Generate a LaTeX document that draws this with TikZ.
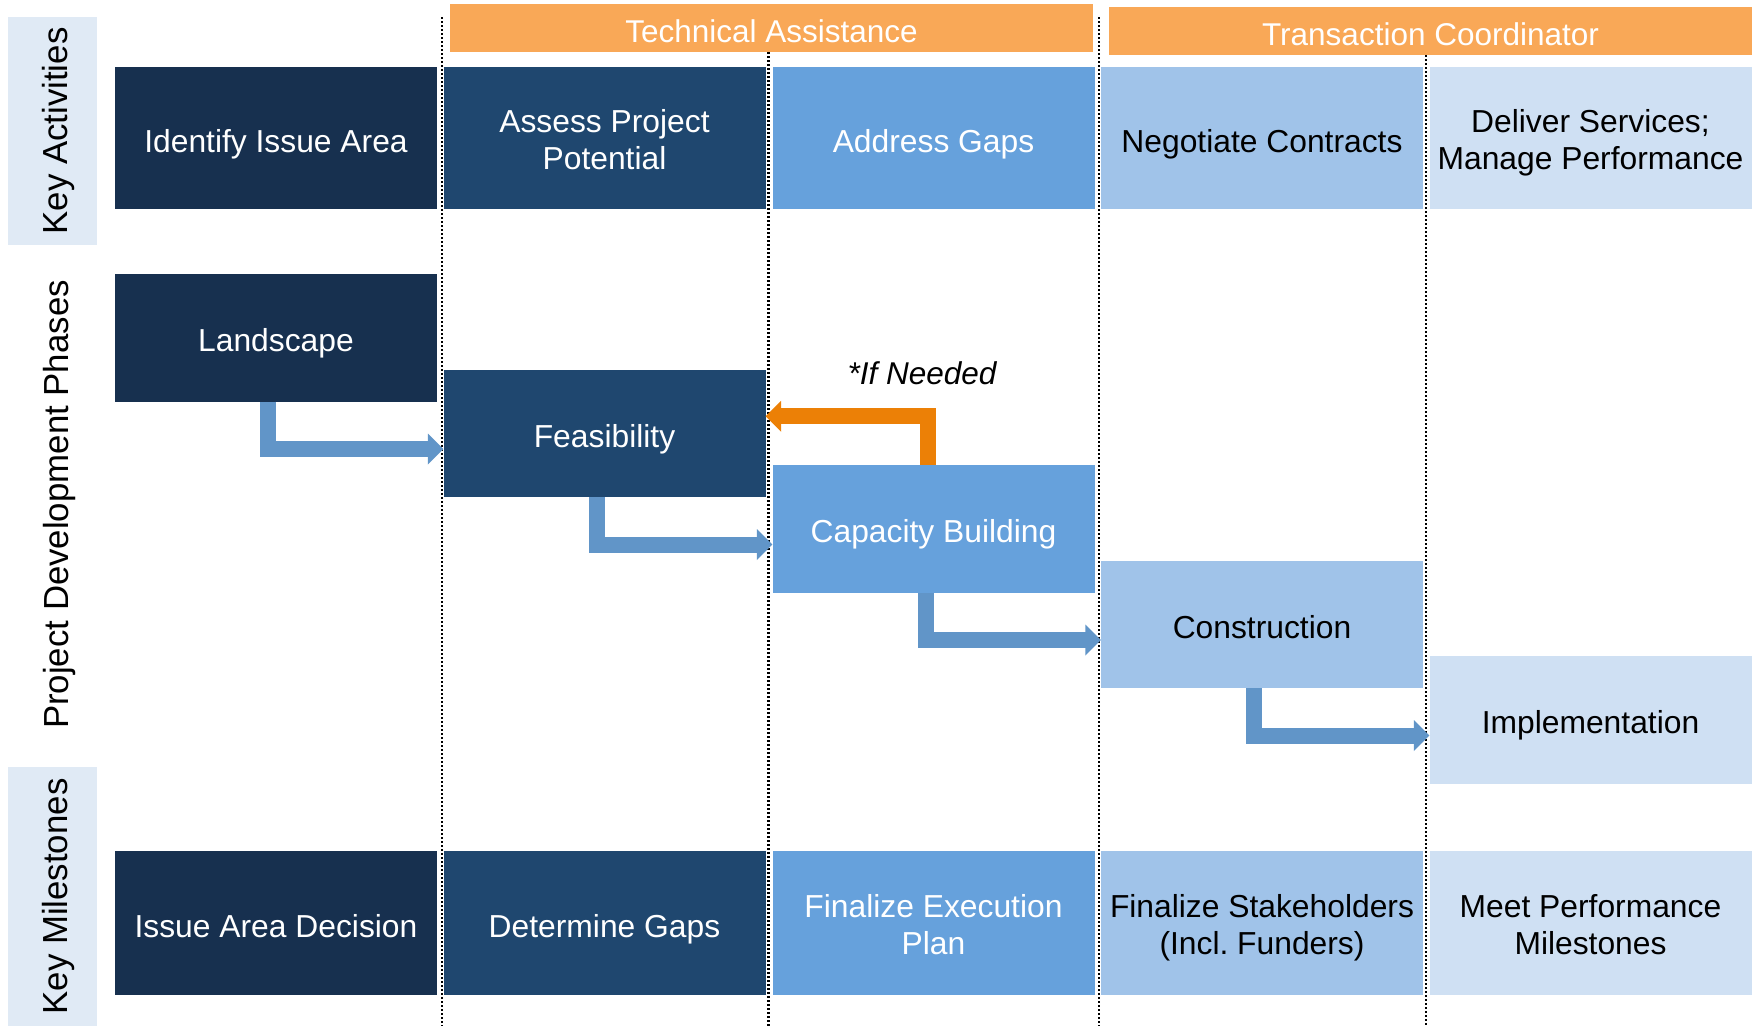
\documentclass[tikz,border=0pt]{standalone}
\usepackage{fontspec}
\setmainfont{Liberation Sans}
\usetikzlibrary{calc}
\definecolor{navyA}{HTML}{17304F}
\definecolor{navyB}{HTML}{1F476F}
\definecolor{blueC}{HTML}{66A1DC}
\definecolor{blueD}{HTML}{A0C3E9}
\definecolor{blueE}{HTML}{CFE0F3}
\definecolor{labelbg}{HTML}{E0EAF5}
\definecolor{barorange}{HTML}{F9A857}
\definecolor{arroworange}{HTML}{EC8006}
\definecolor{arrowblue}{HTML}{6195C8}
\frenchspacing
\begin{document}
\begin{tikzpicture}[x=1pt,y=-1pt,
  box/.style={inner sep=0pt, minimum width=322pt, align=center, font=\fontsize{31.8}{37}\selectfont},
  oneline/.style={text height=34pt, text depth=6pt},
  twoline/.style={text height=68pt, text depth=6pt},
  actbox/.style={box, minimum height=142pt},
  phbox/.style={box, minimum height=127.5pt, oneline},
  msbox/.style={box, minimum height=144pt},
  colA/.style={fill=navyA, text=white},
  colB/.style={fill=navyB, text=white},
  colC/.style={fill=blueC, text=white},
  colD/.style={fill=blueD, text=black},
  colE/.style={fill=blueE, text=black},
  bar/.style={fill=barorange, text=white, inner sep=0pt, minimum width=643pt, minimum height=48pt, oneline, font=\fontsize{31.5}{37}\selectfont},
  sidebg/.style={fill=labelbg, inner sep=0pt, rotate=90, minimum height=89pt},
  sidefont/.style={font=\fontsize{34.8}{40}\selectfont, text height=36pt, text depth=6pt},
  divider/.style={line width=2.5pt, dash pattern=on 2pt off 2pt},
  bshaft/.style={draw=arrowblue, line width=16pt},
  oshaft/.style={draw=arroworange, line width=16pt},
]
\useasboundingbox (0,0) rectangle (1756,1026);

% header bars
\node[bar] (ta) at (771.5,28) {Technical Assistance};
\node[bar] (tc) at (1430.5,31) {Transaction Coordinator};

% side labels
\node[sidebg, sidefont, minimum width=228pt] (ka) at (52.5,131) {Key Activities};
\node[rotate=90, inner sep=0pt, sidefont] (pdp) at (53.5,504.5) {Project Development Phases};
\node[sidebg, sidefont, minimum width=259pt] (km) at (52.5,896.5) {Key Milestones};

% dividers
\draw[divider] (442,17) -- (442,1026);
\draw[divider] (ta.south -| 768.5,0) -- (768.5,1026);
\draw[divider] (1099,17) -- (1099,1026);
\draw[divider] (tc.south -| 1426,0) -- (1426,1026);

% key activities
\node[actbox, oneline, colA] (a1) at (276,138) {Identify Issue Area};
\node[actbox, twoline, colB] (a2) at (604.5,138) {Assess Project\\Potential};
\node[actbox, oneline, colC] (a3) at (933.5,138) {Address Gaps};
\node[actbox, oneline, colD] (a4) at (1262,138) {Negotiate Contracts};
\node[actbox, twoline, colE] (a5) at (1590.5,138) {Deliver Services;\\Manage Performance};

% phases
\node[phbox, colA] (land) at (276,337.75) {Landscape};
\node[phbox, colB] (feas) at (604.5,433.25) {Feasibility};
\node[phbox, colC] (cap) at (933.5,528.75) {Capacity Building};
\node[phbox, colD] (cons) at (1262,624.25) {Construction};
\node[phbox, colE] (impl) at (1590.5,719.75) {Implementation};

% milestones
\node[msbox, oneline, colA] (m1) at (276,923) {Issue Area Decision};
\node[msbox, oneline, colB] (m2) at (604.5,923) {Determine Gaps};
\node[msbox, twoline, colC] (m3) at (933.5,923) {Finalize Execution\\Plan};
\node[msbox, twoline, colD] (m4) at (1262,923) {Finalize Stakeholders\\(Incl.\ Funders)};
\node[msbox, twoline, colE] (m5) at (1590.5,923) {Meet Performance\\Milestones};

% blue elbow arrows
\draw[bshaft] ([xshift=-8pt]land.south) |- ([xshift=-15pt,yshift=-15.75pt]feas.west);
\fill[arrowblue] ([yshift=-15.75pt]feas.west) -- ++(-15.5,-15.5) -- ++(0,31) -- cycle;
\draw[bshaft] ([xshift=-8pt]feas.south) |- ([xshift=-15pt,yshift=-15.75pt]cap.west);
\fill[arrowblue] ([yshift=-15.75pt]cap.west) -- ++(-15.5,-15.5) -- ++(0,31) -- cycle;
\draw[bshaft] ([xshift=-8pt]cap.south) |- ([xshift=-15pt,yshift=-15.75pt]cons.west);
\fill[arrowblue] ([yshift=-15.75pt]cons.west) -- ++(-15.5,-15.5) -- ++(0,31) -- cycle;
\draw[bshaft] ([xshift=-8pt]cons.south) |- ([xshift=-15pt,yshift=-15.75pt]impl.west);
\fill[arrowblue] ([yshift=-15.75pt]impl.west) -- ++(-15.5,-15.5) -- ++(0,31) -- cycle;

% orange feedback arrow
\draw[oshaft] ([xshift=-6pt]cap.north) |- ([xshift=15pt,yshift=17pt]feas.east);
\fill[arroworange] ([yshift=17pt]feas.east) -- ++(15.5,-15.5) -- ++(0,31) -- cycle;
\node[font=\fontsize{31.5}{37}\selectfont\itshape, inner sep=0pt] (ifn) at (922,373) {*If Needed};
\end{tikzpicture}
\end{document}
